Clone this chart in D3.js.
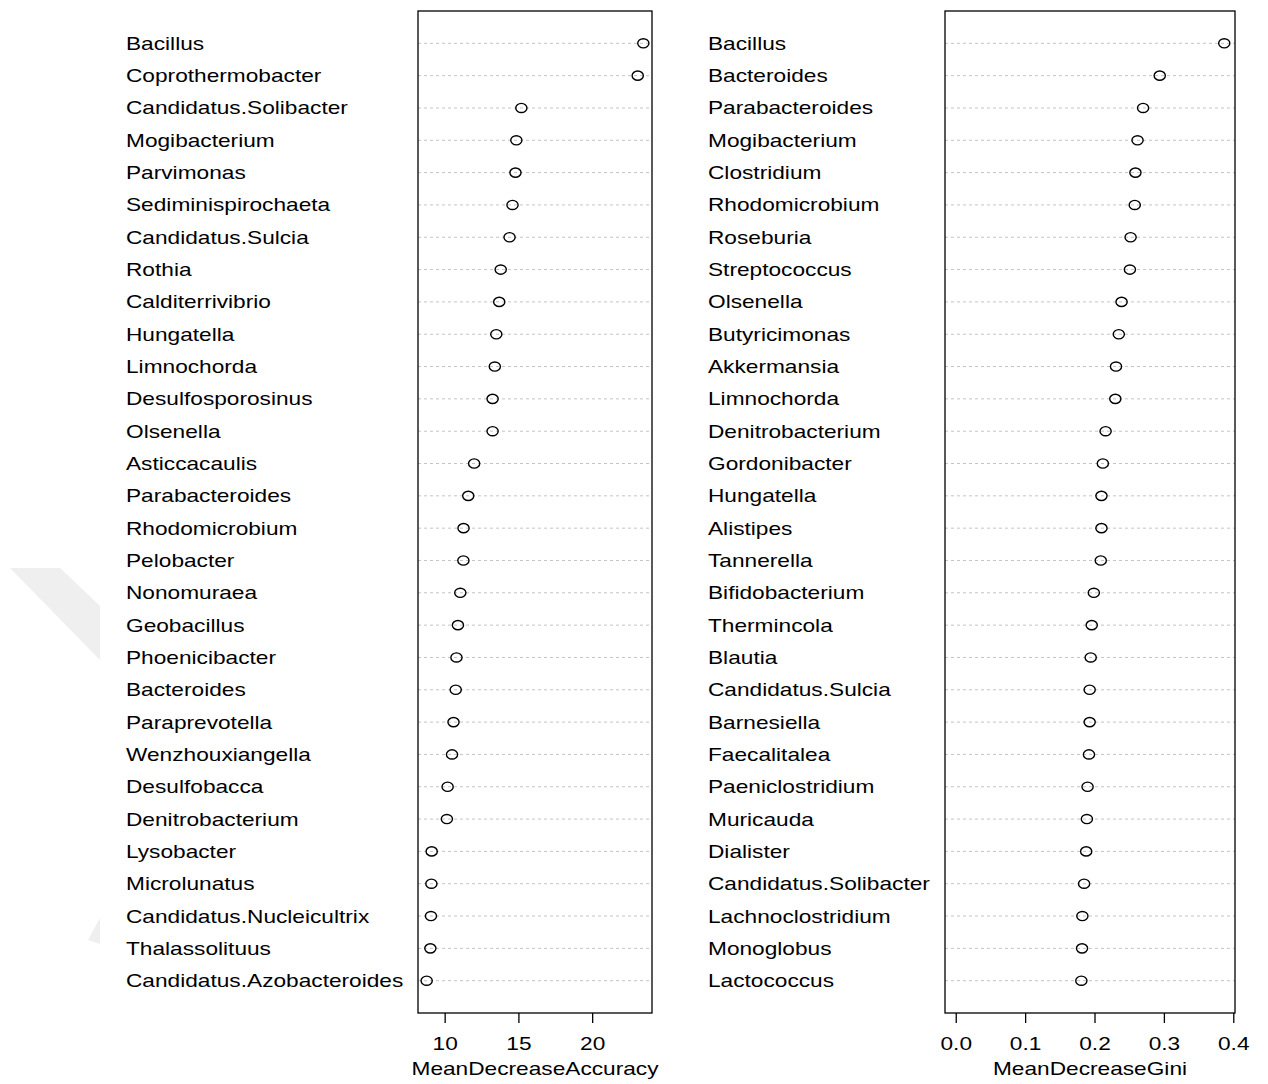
<!DOCTYPE html>
<html>
<head>
<meta charset="utf-8">
<script src="https://cdn.jsdelivr.net/npm/d3@7"></script>
<style>
  html, body { margin: 0; padding: 0; background: #fff; }
  text { font-family: "Liberation Sans", Arial, Helvetica, sans-serif; fill: #000; }
</style>
</head>
<body>
<svg id="chart" width="1268" height="1084"></svg>
<script>
// ---- Data (top to bottom as shown) ----
const accNames = ["Bacillus","Coprothermobacter","Candidatus.Solibacter","Mogibacterium","Parvimonas",
  "Sediminispirochaeta","Candidatus.Sulcia","Rothia","Calditerrivibrio","Hungatella","Limnochorda",
  "Desulfosporosinus","Olsenella","Asticcacaulis","Parabacteroides","Rhodomicrobium","Pelobacter",
  "Nonomuraea","Geobacillus","Phoenicibacter","Bacteroides","Paraprevotella","Wenzhouxiangella",
  "Desulfobacca","Denitrobacterium","Lysobacter","Microlunatus","Candidatus.Nucleicultrix",
  "Thalassolituus","Candidatus.Azobacteroides"];
const accValues = [23.47,23.09,15.2,14.86,14.8,14.6,14.4,13.8,13.7,13.5,13.4,13.25,13.25,12.0,11.6,
  11.28,11.27,11.06,10.9,10.8,10.75,10.6,10.5,10.2,10.15,9.12,9.1,9.07,9.03,8.78];

const giniNames = ["Bacillus","Bacteroides","Parabacteroides","Mogibacterium","Clostridium",
  "Rhodomicrobium","Roseburia","Streptococcus","Olsenella","Butyricimonas","Akkermansia","Limnochorda",
  "Denitrobacterium","Gordonibacter","Hungatella","Alistipes","Tannerella","Bifidobacterium",
  "Thermincola","Blautia","Candidatus.Sulcia","Barnesiella","Faecalitalea","Paeniclostridium",
  "Muricauda","Dialister","Candidatus.Solibacter","Lachnoclostridium","Monoglobus","Lactococcus"];
const giniValues = [0.387,0.294,0.270,0.262,0.259,0.258,0.252,0.251,0.239,0.235,0.231,0.230,0.216,
  0.212,0.210,0.210,0.209,0.199,0.196,0.1945,0.193,0.193,0.192,0.190,0.189,0.188,0.185,0.1825,0.182,0.181];

const accTicks = [10, 15, 20];
const giniTicks = [0, 0.1, 0.2, 0.3, 0.4];
const accTitle = "MeanDecreaseAccuracy";
const giniTitle = "MeanDecreaseGini";

// ---- Drawing ----
const svg = d3.select("#chart");
const SX = 1.26; // horizontal stretch of the text in the reference
const plotTop = 11, plotBottom = 1013;

// faint watermark
svg.append("polygon").attr("points", "10,568 60,568 100,606 100,660").attr("fill", "#efefef");
svg.append("polygon").attr("points", "88,940 100,918 100,944").attr("fill", "#efefef");

function panel(names, values, xmin, boxL, boxR, labelX, ticks, fmt, title) {
  const lo = xmin, hi = d3.max(values), r = hi - lo;
  const x = d3.scaleLinear().domain([lo - 0.04 * r, hi + 0.04 * r]).range([boxL, boxR]);
  const y = d3.scalePoint().domain(names).range([plotTop, plotBottom]).padding(1);
  const g = svg.append("g");

  // dotted guide lines
  g.selectAll("line.guide").data(names).join("line")
    .attr("class", "guide")
    .attr("x1", boxL).attr("x2", boxR)
    .attr("y1", d => y(d)).attr("y2", d => y(d))
    .attr("stroke", "#c4c4c4").attr("stroke-width", 1)
    .attr("stroke-dasharray", "3,3");

  // labels
  g.selectAll("text.lab").data(names).join("text")
    .attr("class", "lab")
    .attr("transform", d => `translate(${labelX},${y(d) + 6.5}) scale(${SX},1)`)
    .attr("font-size", 18)
    .text(d => d);

  // points
  g.selectAll("ellipse").data(names).join("ellipse")
    .attr("cx", (d, i) => x(values[i]))
    .attr("cy", d => y(d))
    .attr("rx", 5.6).attr("ry", 4.6)
    .attr("fill", "none").attr("stroke", "#000").attr("stroke-width", 1.4);

  // box
  g.append("rect")
    .attr("x", boxL).attr("y", plotTop)
    .attr("width", boxR - boxL).attr("height", plotBottom - plotTop)
    .attr("fill", "none").attr("stroke", "#000").attr("stroke-width", 1.3);

  // axis
  const ax = g.append("g").attr("transform", `translate(0,${plotBottom})`)
    .call(d3.axisBottom(x).tickValues(ticks).tickSize(10).tickFormat(fmt));
  ax.select(".domain").remove();
  ax.selectAll(".tick line").attr("stroke", "#000").attr("stroke-width", 1.3);
  ax.selectAll(".tick text")
    .attr("font-size", 18)
    .attr("font-family", "Liberation Sans, Arial, sans-serif")
    .attr("fill", "#000")
    .attr("y", 0).attr("dy", null)
    .attr("transform", `translate(0,36.5) scale(${SX},1)`);

  g.append("text")
    .attr("transform", `translate(${(boxL + boxR) / 2},1075) scale(${SX},1)`)
    .attr("text-anchor", "middle")
    .attr("font-size", 18)
    .text(title);
}

panel(accNames, accValues, d3.min(accValues), 418, 652, 126, accTicks, d3.format("d"), accTitle);
panel(giniNames, giniValues, 0, 945, 1235, 708, giniTicks, d3.format(".1f"), giniTitle);
</script>
</body>
</html>
